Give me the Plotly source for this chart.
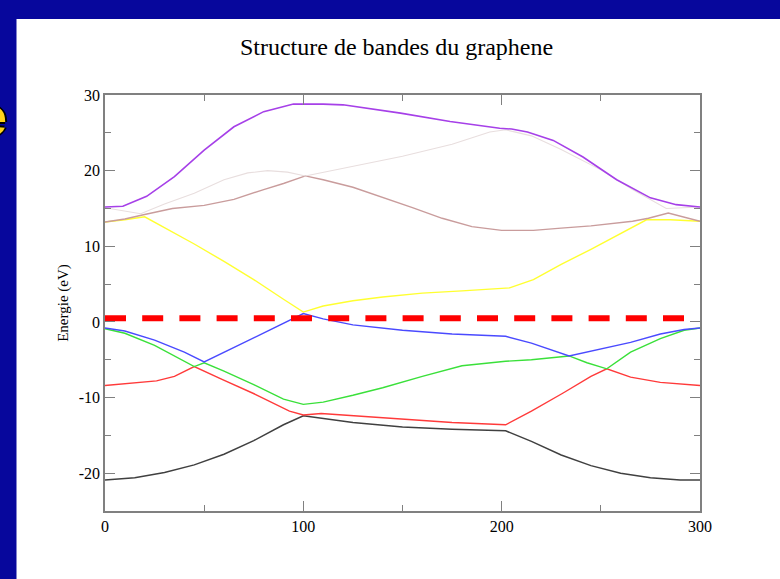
import plotly.graph_objects as go

# ---- data ----
title_text = "Structure de bandes du graphene"
y_label = "Energie (eV)"
fermi_level = 0.5
fermi_x = [0, 300]
x_tick_vals = [0, 100, 200, 300]
x_tick_text = ["0", "100", "200", "300"]
y_tick_vals = [-20, -10, 0, 10, 20, 30]
y_tick_text = ["-20", "-10", "0", "10", "20", "30"]

band1_x = [0, 15, 30, 45, 60, 75, 90, 100, 125, 150, 175, 195, 202, 215, 230, 245, 260, 275, 290, 300]
band1_y = [-20.9, -20.6, -19.9, -18.9, -17.5, -15.7, -13.6, -12.4, -13.3, -13.9, -14.2, -14.4, -14.4, -15.8, -17.6, -19.0, -20.0, -20.6, -20.9, -20.9]

band2_x = [0, 15, 26, 35, 45, 59, 76, 93, 100, 109, 125, 150, 175, 202, 215, 231, 245, 253, 265, 280, 300]
band2_y = [-8.4, -8.1, -7.8, -7.2, -5.9, -7.6, -9.6, -11.8, -12.3, -12.1, -12.4, -12.9, -13.3, -13.6, -11.8, -9.4, -7.2, -6.2, -7.3, -8.0, -8.4]

band3_x = [0, 10, 25, 35, 45, 50, 60, 75, 90, 100, 110, 125, 140, 160, 180, 202, 215, 234, 243, 253, 265, 280, 292, 300]
band3_y = [-0.9, -1.5, -3.1, -4.5, -5.9, -5.4, -6.5, -8.3, -10.2, -10.9, -10.6, -9.7, -8.7, -7.2, -5.8, -5.2, -5.0, -4.5, -5.4, -6.2, -4.0, -2.2, -1.1, -0.8]

band4_x = [0, 10, 25, 40, 50, 60, 75, 90, 100, 110, 125, 150, 175, 202, 215, 234, 250, 265, 280, 292, 300]
band4_y = [-0.8, -1.2, -2.4, -4.0, -5.3, -4.0, -2.1, -0.2, 1.1, 0.4, -0.4, -1.1, -1.6, -1.9, -2.8, -4.5, -3.6, -2.7, -1.6, -1.0, -0.8]

band5_x = [0, 10, 20, 30, 45, 60, 75, 90, 100, 110, 125, 140, 160, 180, 204, 216, 230, 245, 260, 273, 285, 300]
band5_y = [13.2, 13.5, 13.9, 12.5, 10.3, 8.0, 5.6, 3.0, 1.3, 2.1, 2.8, 3.3, 3.8, 4.1, 4.5, 5.6, 7.6, 9.6, 11.7, 13.5, 13.5, 13.3]

band6_x = [0, 10, 20, 34, 50, 65, 80, 90, 101, 110, 125, 140, 155, 170, 185, 200, 216, 230, 245, 266, 274, 284, 292, 300]
band6_y = [13.2, 13.6, 14.2, 15.0, 15.4, 16.2, 17.5, 18.3, 19.3, 18.8, 17.8, 16.5, 15.1, 13.7, 12.6, 12.1, 12.1, 12.4, 12.7, 13.3, 13.7, 14.4, 13.9, 13.3]

band7_x = [0, 10, 18, 30, 45, 60, 72, 82, 92, 101, 125, 150, 175, 194, 202, 215, 230, 250, 266, 283, 300]
band7_y = [15.1, 14.7, 14.3, 15.6, 17.0, 18.8, 19.7, 20.0, 19.8, 19.3, 20.6, 21.9, 23.5, 25.1, 25.4, 24.6, 22.8, 20.1, 17.5, 15.0, 15.2]

band8_x = [0, 9, 21, 35, 50, 65, 80, 95, 110, 120, 149, 174, 199, 205, 213, 226, 241, 258, 275, 288, 300]
band8_y = [15.2, 15.3, 16.6, 19.2, 22.7, 25.8, 27.8, 28.8, 28.8, 28.7, 27.6, 26.5, 25.6, 25.5, 25.1, 24.0, 21.8, 18.8, 16.4, 15.5, 15.2]

bands = [
    (band1_x, band1_y, "#404040", 1.5),
    (band2_x, band2_y, "#ff3a3a", 1.4),
    (band3_x, band3_y, "#3ae03a", 1.4),
    (band4_x, band4_y, "#4a4aff", 1.4),
    (band5_x, band5_y, "#ffff30", 1.4),
    (band6_x, band6_y, "#c99c9c", 1.4),
    (band7_x, band7_y, "#e8dede", 1.1),
    (band8_x, band8_y, "#a640e8", 1.6),
]

fig = go.Figure()
for bx, by, col, w in bands:
    fig.add_trace(go.Scatter(x=bx, y=by, mode="lines",
                             line=dict(color=col, width=w),
                             showlegend=False, hoverinfo="skip"))

fig.add_trace(go.Scatter(x=fermi_x, y=[fermi_level, fermi_level], mode="lines",
                         line=dict(color="#ff0000", width=6, dash="21px,16.2px"),
                         showlegend=False, hoverinfo="skip"))

# geometry of the plot area in pixels
L, R, T, B = 105, 700, 95, 511.5
W, H = 780, 579

def px_to_paper_x(px):
    return (px - L) / (R - L)

def py_to_paper_y(py):
    return (B - py) / (B - T)

axis_font = dict(family="Liberation Serif", size=16, color="black")

fig.update_layout(
    width=W, height=H,
    margin=dict(l=L, r=W - R, t=T, b=H - B),
    paper_bgcolor="#07079c",
    plot_bgcolor="white",
    title=dict(text=title_text, x=0.49, xref="paper", xanchor="center",
               y=1 - 47 / H, yref="container", yanchor="middle",
               font=dict(family="Liberation Serif", size=24, color="black")),
    shapes=[dict(type="rect", xref="paper", yref="paper",
                 x0=px_to_paper_x(16.5), x1=px_to_paper_x(790),
                 y0=py_to_paper_y(590), y1=py_to_paper_y(19),
                 fillcolor="white", line=dict(width=0), layer="below")],
    annotations=[dict(text="<b>e</b>", xref="paper", yref="paper",
                      x=px_to_paper_x(9.5), y=py_to_paper_y(116),
                      xanchor="right", yanchor="middle", showarrow=False,
                      font=dict(family="Liberation Sans", size=54, color="#ffd21a",
                                shadow="2px 0 0 #000, -2px 0 0 #000, 0 2px 0 #000, 0 -2px 0 #000"))],
)

fig.update_xaxes(range=[0, 300], tickmode="array", tickvals=x_tick_vals, ticktext=x_tick_text,
                 ticks="inside", ticklen=10, tickwidth=1.3, tickcolor="#808080",
                 minor=dict(dtick=50, tick0=0, ticks="inside", ticklen=6, tickcolor="#808080", tickwidth=1.3),
                 showline=True, linecolor="#808080", linewidth=1.5, mirror="ticks",
                 showgrid=False, zeroline=False, tickfont=axis_font)
fig.update_yaxes(range=[-25, 30], tickmode="array", tickvals=y_tick_vals, ticktext=y_tick_text,
                 ticks="inside", ticklen=10, tickwidth=1.3, tickcolor="#808080",
                 minor=dict(dtick=5, tick0=0, ticks="inside", ticklen=6, tickcolor="#808080", tickwidth=1.3),
                 showline=True, linecolor="#808080", linewidth=1.5, mirror="ticks",
                 showgrid=False, zeroline=False, tickfont=axis_font,
                 title=dict(text=y_label, standoff=6,
                            font=dict(family="Liberation Serif", size=15, color="black")))

fig.write_html("out.html", config={"displayModeBar": False},
               post_script="document.body.style.margin='0px';document.body.style.background='#07079c';")
